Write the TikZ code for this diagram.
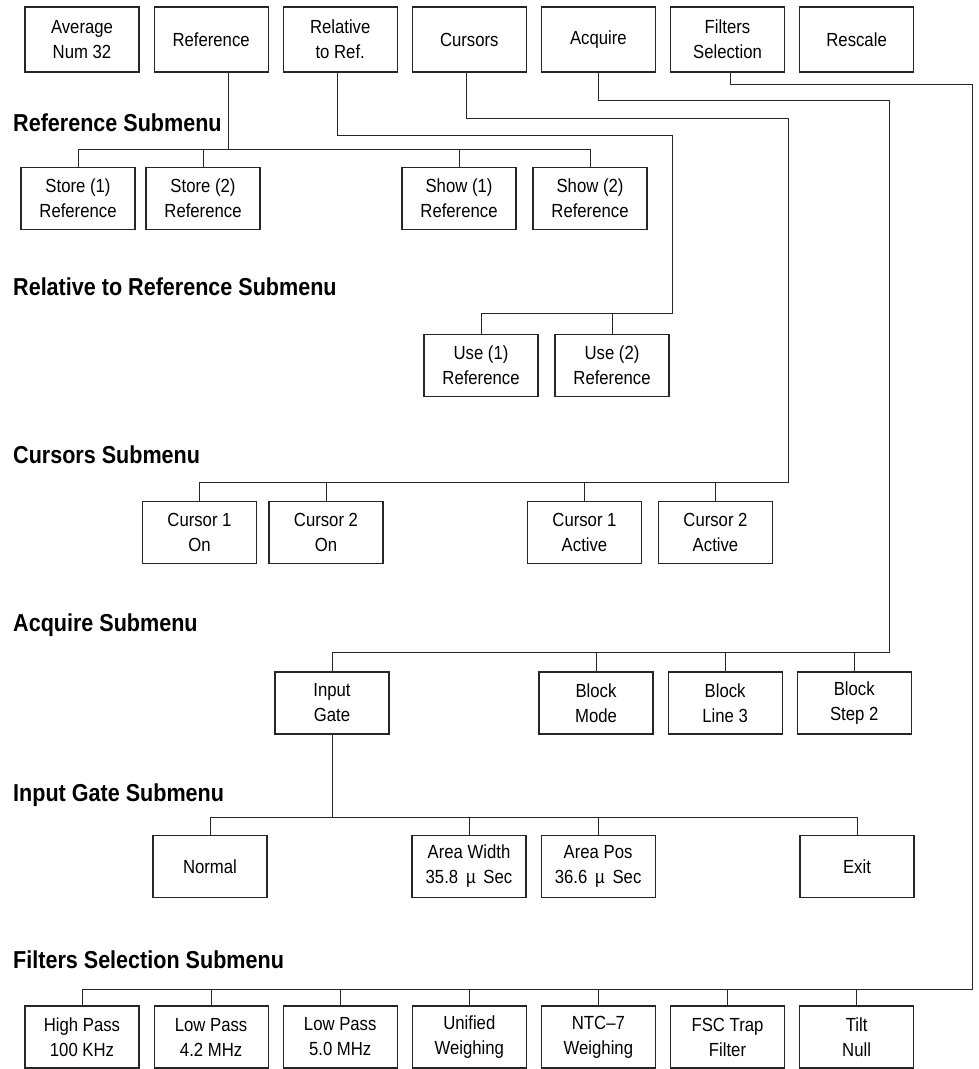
\documentclass[tikz,border=0pt]{standalone}
\usepackage{fontspec}
\setmainfont{Liberation Sans}[FakeStretch=0.88]
\usetikzlibrary{positioning}
\newcommand{\boxfont}{\fontsize{19}{25}\selectfont}
\newcommand{\labelfont}{\fontsize{24.5}{29}\selectfont\bfseries}
\tikzset{
  menubox/.style={draw=black!85, line width=1.1pt, align=center,
    minimum width=114pt, minimum height=62pt, inner sep=2pt, font=\boxfont},
  topbox/.style={menubox, minimum height=65pt},
  sublabel/.style={anchor=west, inner sep=0pt, font=\labelfont},
  wire/.style={draw=black!85, line width=0.9pt},
}

\begin{document}
\begin{tikzpicture}[x=1pt, y=1pt, node distance=14pt]
    \useasboundingbox (0,0) rectangle (979,-1069);
    \node[topbox] (avg) at (82,-39.5) {Average\\Num 32};
    \node[topbox, right=of avg] (ref) {Reference};
    \node[topbox, right=of ref] (rel) {Relative\\to Ref.};
    \node[topbox, right=of rel] (cur) {Cursors};
    \node[topbox, right=of cur] (acq) {Acquire};
    \node[topbox, right=of acq] (fil) {Filters\\Selection};
    \node[topbox, right=of fil] (rsc) {Rescale};

    \node[sublabel] (lref) at (13,-123) {Reference Submenu};
    \node[menubox] (st1) at (78,-198.5) {Store (1)\\Reference};
    \node[menubox] (st2) at (203,-198.5) {Store (2)\\Reference};
    \node[menubox] (sh1) at (459,-198.5) {Show (1)\\Reference};
    \node[menubox] (sh2) at (590,-198.5) {Show (2)\\Reference};

    \node[sublabel] (lrel) at (13,-287) {Relative to Reference Submenu};
    \node[menubox] (us1) at (481,-365.5) {Use (1)\\Reference};
    \node[menubox] (us2) at (612,-365.5) {Use (2)\\Reference};

    \node[sublabel] (lcur) at (13,-455) {Cursors Submenu};
    \node[menubox] (cs1) at (199.5,-532.5) {Cursor 1\\On};
    \node[menubox] (cs2) at (326,-532.5) {Cursor 2\\On};
    \node[menubox] (ca1) at (584.5,-532.5) {Cursor 1\\Active};
    \node[menubox] (ca2) at (715.5,-532.5) {Cursor 2\\Active};

    \node[sublabel] (lacq) at (13,-625) {Acquire Submenu};
    \node[menubox] (ig) at (332,-703) {Input\\Gate};
    \node[menubox] (bm) at (596,-703) {Block\\Mode};
    \node[menubox, right=of bm] (bl) {Block\\Line 3};
    \node[menubox, right=of bl] (bs) {Block\\Step 2};

    \node[sublabel] (lig) at (13,-795) {Input Gate Submenu};
    \node[menubox] (nrm) at (210,-866.5) {Normal};
    \node[menubox] (aw) at (469,-866.5) {Area Width\\35.8 \,µ\, Sec};
    \node[menubox, right=of aw] (ap) {Area Pos\\36.6 \,µ\, Sec};
    \node[menubox] (ext) at (857,-866.5) {Exit};

    \node[sublabel] (lfil) at (13,-960) {Filters Selection Submenu};
    \node[menubox] (hp) at (82,-1037) {High Pass\\100 KHz};
    \node[menubox, right=of hp] (lp1) {Low Pass\\4.2 MHz};
    \node[menubox, right=of lp1] (lp2) {Low Pass\\5.0 MHz};
    \node[menubox, right=of lp2] (uw) {Unified\\Weighing};
    \node[menubox, right=of uw] (ntc) {NTC–7\\Weighing};
    \node[menubox, right=of ntc] (fsc) {FSC Trap\\Filter};
    \node[menubox, right=of fsc] (tn) {Tilt\\Null};

    \coordinate (refbus) at (0,-149);
    \coordinate (relR) at (672,-135);
    \coordinate (relbus) at (0,-313);
    \coordinate (curR) at (788,-118);
    \coordinate (curbus) at (0,-482);
    \coordinate (acqR) at (889,-100);
    \coordinate (acqbus) at (0,-652);
    \coordinate (igbus) at (0,-817);
    \coordinate (filR) at (972,-84);
    \coordinate (filbus) at (0,-989);

    \draw[wire] ([xshift=17pt]ref.south) -- ([xshift=17pt]ref.south |- refbus);
    \draw[wire] (st1.north) |- (refbus -| sh2.north) -- (sh2.north);
    \foreach \n in {st2, sh1}
      \draw[wire] (\n.north) -- (\n.north |- refbus);

    \draw[wire] ([xshift=-3pt]rel.south) |- (relR) |- (us1.north |- relbus) -- (us1.north);
    \draw[wire] (us2.north) -- (us2.north |- relbus);

    \draw[wire] ([xshift=-3pt]cur.south) |- (curR) |- (cs1.north |- curbus) -- (cs1.north);
    \foreach \n in {cs2, ca1, ca2}
      \draw[wire] (\n.north) -- (\n.north |- curbus);

    \draw[wire] (acq.south) |- (acqR) |- (ig.north |- acqbus) -- (ig.north);
    \foreach \n in {bm, bl, bs}
      \draw[wire] (\n.north) -- (\n.north |- acqbus);

    \draw[wire] (ig.south) -- (ig.south |- igbus);
    \draw[wire] (nrm.north) |- (igbus -| ext.north) -- (ext.north);
    \foreach \n in {aw, ap}
      \draw[wire] (\n.north) -- (\n.north |- igbus);

    \draw[wire] ([xshift=3pt]fil.south) |- (filR) |- (hp.north |- filbus) -- (hp.north);
    \foreach \n in {lp1, lp2, uw, ntc, fsc, tn}
      \draw[wire] (\n.north) -- (\n.north |- filbus);
\end{tikzpicture}
\end{document}
